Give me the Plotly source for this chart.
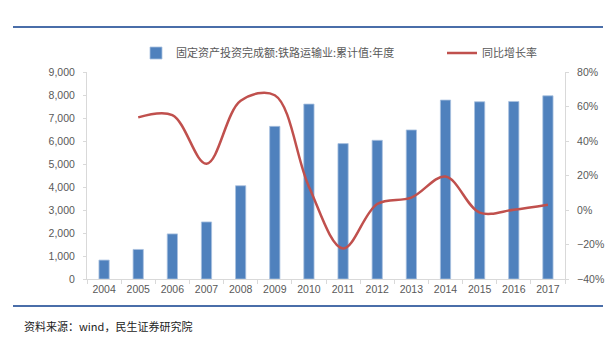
import plotly.graph_objects as go

years = ["2004", "2005", "2006", "2007", "2008", "2009", "2010",
         "2011", "2012", "2013", "2014", "2015", "2016", "2017"]
invest = [822, 1285, 1960, 2480, 4055, 6637, 7605,
          5887, 6030, 6480, 7779, 7706, 7719, 7965]
growth_years = years[1:]
growth = [0.537, 0.550, 0.268, 0.633, 0.665, 0.135,
          -0.223, 0.035, 0.072, 0.194, -0.015, 0.002, 0.031]

bar_name = "固定资产投资完成额:铁路运输业:累计值:年度"
line_name = "同比增长率"

CJK = "Noto Sans CJK SC"
NUM = "Liberation Sans"
GRAY = "#595959"
AXIS = "#d9d9d9"

P_TOP, P_BOT, P_L, P_R = 72, 279, 87, 565
H = P_BOT - P_TOP
W = P_R - P_L


def py(p):
    return (P_BOT - p) / H


def px(p):
    return (p - P_L) / W


fig = go.Figure()
fig.add_trace(go.Bar(x=years, y=invest, name=bar_name,
                     marker=dict(color="#4f81bd", line=dict(color="#a9c1df", width=0.8)),
                     yaxis="y", legend="legend"))
fig.add_trace(go.Scatter(x=growth_years, y=growth, name=line_name, mode="lines",
                         line=dict(color="#c0504d", width=2.5, shape="spline", smoothing=1.0),
                         yaxis="y2", legend="legend2"))

leg_common = dict(orientation="h", yanchor="middle", xanchor="left",
                  font=dict(family=CJK, size=11, color=GRAY), itemwidth=30,
                  bgcolor="rgba(0,0,0,0)")

fig.update_layout(
    width=616, height=337,
    margin=dict(l=P_L, r=616 - P_R, t=P_TOP, b=337 - P_BOT, pad=0),
    paper_bgcolor="white", plot_bgcolor="white",
    bargap=0.7,
    showlegend=True,
    legend=dict(x=px(136), y=py(53), **leg_common),
    legend2=dict(x=px(442), y=py(53), **leg_common),
    xaxis=dict(type="category", showline=True, linecolor=AXIS, linewidth=1,
               ticks="outside", tickson="boundaries", ticklen=4, tickcolor=AXIS,
               tickfont=dict(family=NUM, size=10.5, color=GRAY), showgrid=False,
               zeroline=False),
    yaxis=dict(range=[0, 9000], dtick=1000, tickformat=",", showline=True,
               linecolor=AXIS, linewidth=1, ticks="outside", ticklen=3, tickcolor=AXIS,
               tickfont=dict(family=NUM, size=10.5, color=GRAY), showgrid=False,
               zeroline=False, ticklabelstandoff=6),
    yaxis2=dict(range=[-0.4, 0.8], dtick=0.2, tickformat=".0%", overlaying="y",
                side="right", showline=True, linecolor=AXIS, linewidth=1,
                ticks="outside", ticklen=3, tickcolor=AXIS,
                tickfont=dict(family=NUM, size=10.5, color=GRAY), showgrid=False,
                zeroline=False, ticklabelstandoff=6),
    shapes=[
        dict(type="line", xref="paper", yref="paper", x0=px(13), x1=px(603),
             y0=py(27), y1=py(27), line=dict(color="#4a6ea9", width=2)),
        dict(type="line", xref="paper", yref="paper", x0=px(13), x1=px(603),
             y0=py(306), y1=py(306), line=dict(color="#4a6ea9", width=2)),
    ],
    annotations=[
        dict(text="资料来源：wind，民生证券研究院", xref="paper", yref="paper",
             x=px(22), y=py(326), xanchor="left", yanchor="middle", showarrow=False,
             font=dict(family=CJK, size=11, color="#222222")),
    ],
)

fig.write_html("out.html")
